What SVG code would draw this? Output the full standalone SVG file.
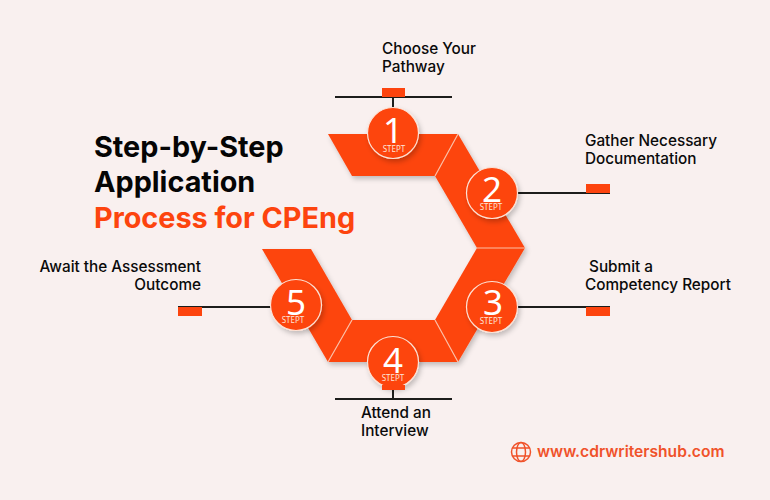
<svg xmlns="http://www.w3.org/2000/svg" width="770" height="500" viewBox="0 0 770 500">
<style>
.seg{fill:#fd440e}
.c{fill:#fd440e;stroke:#fde3d6;stroke-width:1.200;filter:url(#s)}
.n{font-family:"Noto Sans",sans-serif;font-size:35px;font-weight:400;fill:#fff;text-anchor:middle}
.st{font-family:"Noto Sans",sans-serif;font-size:8px;fill:#fde3d6;text-anchor:middle}
.l{stroke:#1d1d1b;stroke-width:2;fill:none}
.r{fill:#fd440e}
.sep{stroke:#fbbfa6;stroke-width:1.200;fill:none}
.t{font-family:Inter,"Liberation Sans",sans-serif;font-size:15.300px;font-weight:500;fill:#0a0a0a}
.h{font-family:Inter,"Liberation Sans",sans-serif;font-size:28.800px;font-weight:700;fill:#050505}
</style>
<defs>
<filter id="s" x="-20%" y="-20%" width="150%" height="150%"><feDropShadow dx="2" dy="3" stdDeviation="2.500" flood-color="#000" flood-opacity=".22"/></filter>
</defs>
<rect width="770" height="500" fill="#f9f0ef"/>
<g id="connectors">
<path class="l" d="M335 97H452M393 97V110M517 193H610M517 307H610M178 307H272M335 399H452M393 388V399"/>
<rect class="r" x="382" y="88" width="23" height="9"/>
<rect class="r" x="586" y="184" width="24" height="9"/>
<rect class="r" x="586" y="307" width="24" height="9"/>
<rect class="r" x="178" y="307" width="24" height="9"/>
</g>
<g id="band">
<g filter="url(#s)">
<polygon class="seg" points="262,249 311,249 352,320 328,362"/>
<polygon class="seg" points="477,248 525,248 458,362 435,320"/>
<polygon class="seg" points="352,320 435,320 458,362 328,362"/>
<polygon class="seg" points="458,134 525,248 477,248 435,176"/>
<polygon class="seg" points="328,134 458,134 435,176 352,176"/>
</g>
<path class="sep" d="M458 134L435 176M477 248H525M435 320L458 362M352 320L328 362"/>
</g>
<g id="step1"><circle class="c" cx="393" cy="133" r="25.500"/><text class="n" x="393" y="143">1</text><text class="st" x="394" y="152">STEPT</text></g>
<g id="step2"><circle class="c" cx="492" cy="193" r="25.500"/><text class="n" x="492" y="202">2</text><text class="st" x="491" y="210">STEPT</text></g>
<g id="step3"><circle class="c" cx="492" cy="307" r="25.500"/><text class="n" x="493" y="315">3</text><text class="st" x="491" y="324">STEPT</text></g>
<g id="step4"><circle class="c" cx="393" cy="362" r="25.500"/><rect class="r" x="382" y="385" width="23" height="5"/><text class="n" x="393" y="373">4</text><text class="st" x="393" y="381">STEPT</text></g>
<g id="step5"><circle class="c" cx="296" cy="305" r="25.500"/><text class="n" x="296" y="315">5</text><text class="st" x="293" y="323">STEPT</text></g>
<g id="labels">
<text class="t" x="382" y="54">Choose Your</text><text class="t" x="382" y="72">Pathway</text>
<text class="t" x="585" y="146">Gather Necessary</text><text class="t" x="585" y="164">Documentation</text>
<text class="t" x="589" y="272">Submit a</text><text class="t" x="585" y="290">Competency Report</text>
<text class="t" x="361" y="418">Attend an</text><text class="t" x="361" y="436">Interview</text>
<text class="t" x="201" y="272" text-anchor="end">Await the Assessment</text><text class="t" x="201" y="290" text-anchor="end">Outcome</text>
</g>
<g id="title">
<text class="h" x="94" y="157">Step-by-Step</text>
<text class="h" x="94" y="192">Application</text>
<text class="h" x="94" y="228" style="fill:#fd440e">Process for CPEng</text>
</g>
<g id="web">
<g fill="none" stroke="#f0522a" stroke-width="1.500"><circle cx="521" cy="452" r="9.500"/><ellipse cx="521" cy="452" rx="4.500" ry="9.500"/><path d="M512.500 448H529.500M512.500 456H529.500"/></g>
<text x="537" y="457" style="font-family:Inter,'Liberation Sans',sans-serif;font-size:15.600px;font-weight:600;fill:#f0522a">www.cdrwritershub.com</text>
</g>
</svg>
